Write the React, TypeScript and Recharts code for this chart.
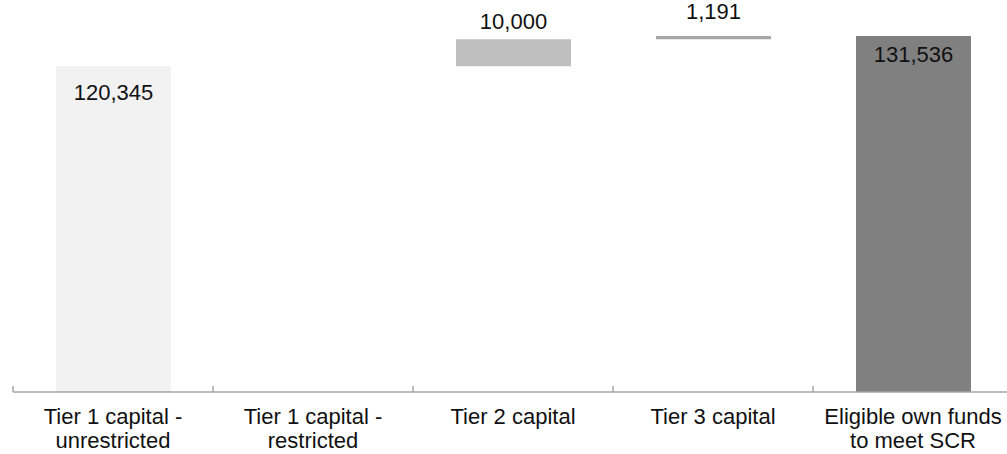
import React from "react";
import { BarChart, Bar, XAxis, YAxis, Cell, LabelList } from "recharts";

const categories = [
  "Tier 1 capital -\nunrestricted",
  "Tier 1 capital -\nrestricted",
  "Tier 2 capital",
  "Tier 3 capital",
  "Eligible own funds\nto meet SCR",
];
const amounts = [120345, 0, 10000, 1191, 131536];
const isTotal = [false, false, false, false, true];

const BAR_COLORS = ["#f2f2f2", "#d9d9d9", "#bfbfbf", "#a6a6a6", "#808080"];
// baseline of each value label relative to the bar top
const LABEL_DY = [34, 0, -10, -17, 26];
const FONT = "'Liberation Sans', Arial, sans-serif";
const CATEGORY_WIDTH = 200;

let running = 0;
const data = categories.map((name, i) => {
  const base = isTotal[i] || i === 0 ? 0 : running;
  if (!isTotal[i]) running += amounts[i];
  return { name, base, value: amounts[i] };
});

function CategoryTick(props: any) {
  const { x, y, payload } = props;
  const lines = String(payload.value).split("\n");
  const left = x - CATEGORY_WIDTH / 2;
  return (
    <g>
      <line x1={left} y1={y} x2={left} y2={y - 6} stroke="#a6a6a6" strokeWidth={1.5} />
      <text x={x} y={y} textAnchor="middle" fill="#111" fontSize={22} fontFamily={FONT}>
        {lines.map((ln, i) => (
          <tspan key={i} x={x} y={y + 32 + i * 24}>
            {ln}
          </tspan>
        ))}
      </text>
    </g>
  );
}

function ValueLabel(props: any) {
  const { x, y, width, value } = props;
  if (!value) return null;
  // zero-height bars are skipped by the label list, so look the bar up by its value
  const idx = amounts.indexOf(Number(value));
  return (
    <text
      x={x + width / 2}
      y={y + (LABEL_DY[idx] ?? -8)}
      textAnchor="middle"
      fill="#111"
      fontSize={22}
      fontFamily={FONT}
    >
      {Number(value).toLocaleString("en-US")}
    </text>
  );
}

export default function App() {
  return (
    <div
      style={{
        position: "absolute",
        left: 0,
        top: 0,
        width: 1007,
        height: 454,
        overflow: "hidden",
        background: "#fff",
      }}
    >
      <BarChart
        width={1013}
        height={454}
        data={data}
        margin={{ top: 13, right: 0, left: 13, bottom: 0 }}
        barSize={115}
      >
        <YAxis hide domain={[0, 140000]} />
        <XAxis
          dataKey="name"
          height={62}
          interval={0}
          tickLine={false}
          tickSize={0}
          tickMargin={0}
          axisLine={{ stroke: "#a6a6a6", strokeWidth: 1.5 }}
          tick={<CategoryTick />}
        />
        <Bar dataKey="base" stackId="w" fill="transparent" isAnimationActive={false} />
        <Bar dataKey="value" stackId="w" isAnimationActive={false}>
          {data.map((d, i) => (
            <Cell key={`cell-${i}`} fill={BAR_COLORS[i]} />
          ))}
          <LabelList dataKey="value" content={<ValueLabel />} />
        </Bar>
      </BarChart>
    </div>
  );
}
